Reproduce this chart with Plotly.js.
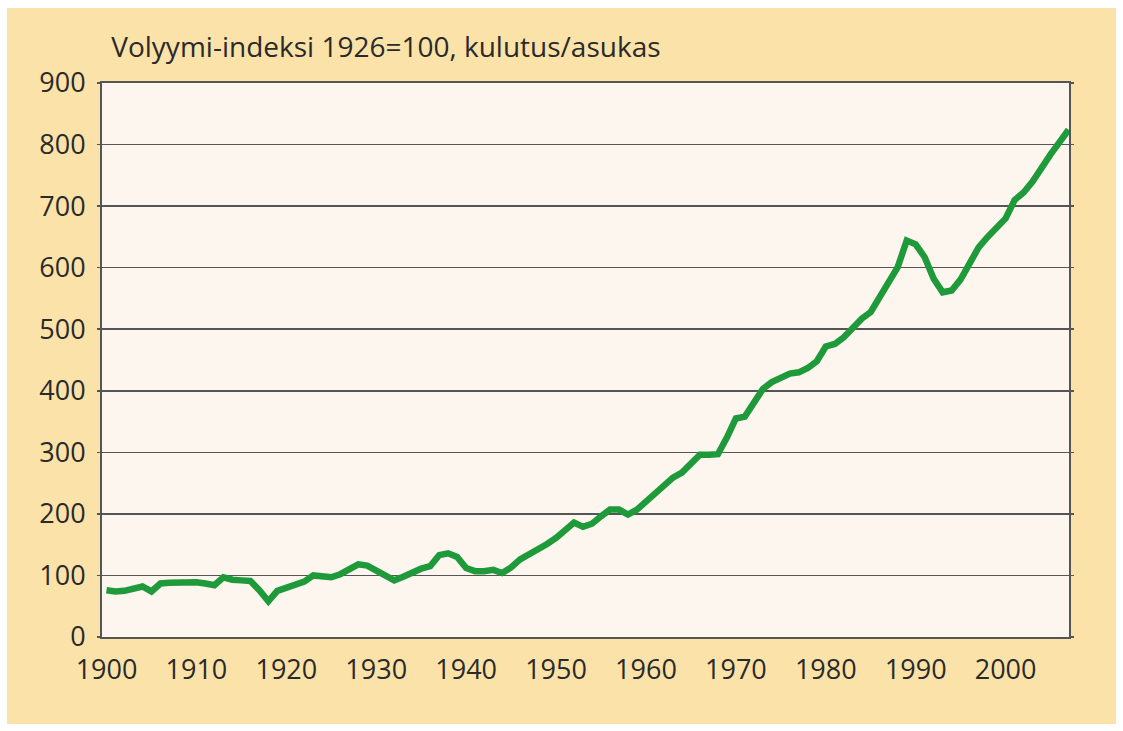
<!DOCTYPE html>
<html>
<head>
<meta charset="utf-8">
<script src="https://cdn.plot.ly/plotly-3.0.1.min.js"></script>
<style>
  html, body { margin: 0; padding: 0; background: #ffffff; width: 1123px; height: 731px; overflow: hidden; }
  #chart { position: absolute; left: 7px; top: 8px; width: 1109px; height: 716px; }
</style>
</head>
<body>
<div id="chart"></div>
<script>
// Volume index 1926=100, consumption per inhabitant
const years = [];
for (let y = 1900; y <= 2007; y++) years.push(y);

const values1900s = [76, 74, 75, 79, 82, 74, 87, 88, 89, 90];        // 1900-1909
const values1910s = [89, 87, 84, 97, 93, 92, 91, 76, 58, 75];        // 1910-1919
const values1920s = [80, 85, 90, 100, 99, 97, 102, 110, 118, 116];   // 1920-1929
const values1930s = [108, 99, 92, 98, 105, 111, 115, 133, 136, 130]; // 1930-1939
const values1940s = [112, 107, 107, 109, 104, 113, 126, 134, 142, 151]; // 1940-1949
const values1950s = [161, 173, 186, 179, 184, 196, 207, 207, 199, 207]; // 1950-1959
const values1960s = [220, 234, 247, 259, 267, 282, 296, 296, 297, 324]; // 1960-1969
const values1970s = [355, 358, 381, 403, 414, 422, 428, 430, 437, 448]; // 1970-1979
const values1980s = [472, 476, 487, 502, 517, 528, 552, 573, 601, 644]; // 1980-1989
const values1990s = [638, 617, 582, 560, 563, 581, 609, 633, 650, 664]; // 1990-1999
const values2000s = [680, 710, 722, 740, 763, 784, 804, 824];           // 2000-2007

const values = [].concat(values1900s, values1910s, values1920s, values1930s,
  values1940s, values1950s, values1960s, values1970s, values1980s, values1990s, values2000s);

const xTicks = [1900, 1910, 1920, 1930, 1940, 1950, 1960, 1970, 1980, 1990, 2000];
const yTicks = [0, 100, 200, 300, 400, 500, 600, 700, 800, 900];
const titleText = 'Volyymi-indeksi 1926=100, kulutus/asukas';

const trace = {
  x: years,
  y: values,
  type: 'scatter',
  mode: 'lines',
  line: { color: '#1f9a3b', width: 6.5, shape: 'linear' },
  hoverinfo: 'x+y'
};

const font = { family: 'Open Sans, sans-serif', size: 27, color: '#2a2a2a' };

const layout = {
  width: 1109,
  height: 716,
  paper_bgcolor: '#fbe2a9',
  plot_bgcolor: '#fdf6ee',
  margin: { l: 95, r: 47, t: 75, b: 87 },
  showlegend: false,
  font: font,
  title: {
    text: titleText,
    font: { family: 'Open Sans, sans-serif', size: 28, color: '#2a2a2a' },
    xref: 'container', yref: 'container',
    x: 0.094, xanchor: 'left',
    y: 0.945, yanchor: 'middle'
  },
  xaxis: {
    range: [1899.5, 2007.05],
    tickmode: 'array',
    tickvals: xTicks,
    ticktext: xTicks.map(String),
    showgrid: false,
    zeroline: false,
    showline: true,
    linecolor: '#555555',
    linewidth: 2,
    mirror: true,
    ticks: '',
    tickfont: font,
    ticklabelstandoff: 8
  },
  yaxis: {
    range: [0, 900],
    tickmode: 'array',
    tickvals: yTicks,
    ticktext: yTicks.map(String),
    showgrid: true,
    gridcolor: '#555555',
    gridwidth: 1.6,
    zeroline: false,
    showline: true,
    linecolor: '#555555',
    linewidth: 2,
    mirror: 'allticks',
    ticks: 'outside',
    ticklen: 3,
    tickwidth: 1.6,
    tickcolor: '#555555',
    tickfont: font,
    ticklabelstandoff: 6
  }
};

Plotly.newPlot('chart', [trace], layout, { displayModeBar: false, staticPlot: true });
</script>
</body>
</html>
